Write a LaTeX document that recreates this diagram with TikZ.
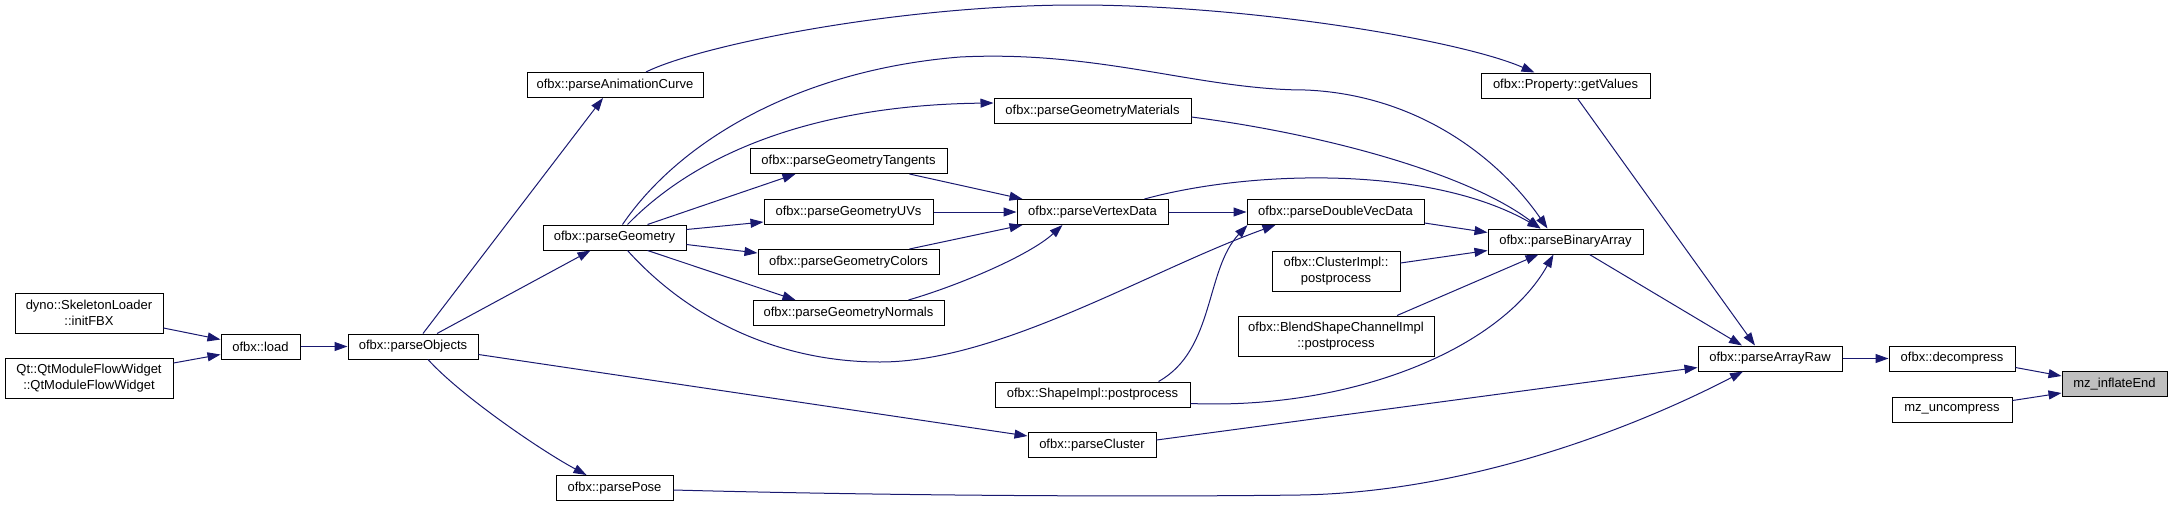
\documentclass[tikz,border=0pt]{standalone}
\usepackage{fontspec}
\setmainfont{Liberation Sans}
\usetikzlibrary{arrows.meta}
\definecolor{edgecol}{HTML}{191970}
\definecolor{boxgray}{HTML}{BFBFBF}
\begin{document}
\begin{tikzpicture}[x=1pt,y=-1pt,
  box/.style={draw=black, line width=1pt, fill=white, inner sep=0pt,
    font=\fontsize{13}{16}\selectfont, align=center, minimum height=25pt},
  tall/.style={minimum height=40pt},
  edge/.style={draw=edgecol, line width=1pt, -{Triangle[length=13pt,width=9pt]}}]
\useasboundingbox (0,0) rectangle (2172,507);
% nodes
\node[box, tall, minimum width=148pt] (skel) at (89,313) {dyno::SkeletonLoader\\::initFBX};
\node[box, tall, minimum width=168pt] (qt) at (89,378) {Qt::QtModuleFlowWidget\\::QtModuleFlowWidget};
\node[box, minimum width=79pt] (load) at (260.5,346.5) {ofbx::load};
\node[box, minimum width=130pt] (pobj) at (413,346.5) {ofbx::parseObjects};
\node[box, minimum width=176pt] (anim) at (615,85) {ofbx::parseAnimationCurve};
\node[box, minimum width=143pt] (geom) at (614.5,237.5) {ofbx::parseGeometry};
\node[box, minimum width=117pt] (pose) at (614.5,488) {ofbx::parsePose};
\node[box, minimum width=197pt] (tan) at (848.5,161) {ofbx::parseGeometryTangents};
\node[box, minimum width=169pt] (uvs) at (848.5,212) {ofbx::parseGeometryUVs};
\node[box, minimum width=181pt] (col) at (848.5,262) {ofbx::parseGeometryColors};
\node[box, minimum width=191pt] (norm) at (848.5,313) {ofbx::parseGeometryNormals};
\node[box, minimum width=197pt] (mat) at (1092.5,111) {ofbx::parseGeometryMaterials};
\node[box, minimum width=151pt] (vd) at (1092.5,212) {ofbx::parseVertexData};
\node[box, minimum width=195pt] (shape) at (1092.5,394.5) {ofbx::ShapeImpl::postprocess};
\node[box, minimum width=128pt] (pclu) at (1092,445) {ofbx::parseCluster};
\node[box, minimum width=177pt] (dv) at (1335.5,212) {ofbx::parseDoubleVecData};
\node[box, tall, minimum width=128pt] (clu) at (1336,271) {ofbx::ClusterImpl::\\postprocess};
\node[box, tall, minimum width=196pt] (blend) at (1336,336) {ofbx::BlendShapeChannelImpl\\::postprocess};
\node[box, minimum width=169pt] (getv) at (1565.5,85.5) {ofbx::Property::getValues};
\node[box, minimum width=155pt] (binA) at (1565.5,241.5) {ofbx::parseBinaryArray};
\node[box, minimum width=144pt] (araw) at (1770,358.5) {ofbx::parseArrayRaw};
\node[box, minimum width=126pt] (decomp) at (1952,358.5) {ofbx::decompress};
\node[box, minimum width=120pt] (uncomp) at (1952,409.5) {mz\_uncompress};
\node[box, minimum width=105pt, fill=boxgray] (infl) at (2114.5,384) {mz\_inflateEnd};
% edges
\draw[edge] ([yshift=-15pt]skel.east) -- ([yshift=7pt]load.west);
\draw[edge] ([yshift=15pt]qt.east) -- ([yshift=-8pt]load.west);
\draw[edge] (load.east) -- (pobj.west);
\draw[edge] ([xshift=10pt]pobj.north) -- ([xshift=-12pt]anim.south);
\draw[edge] ([xshift=24pt]pobj.north) -- ([xshift=-24pt]geom.south);
\draw[edge] ([yshift=-8pt]pobj.east) -- ([yshift=9pt]pclu.west);
\draw[edge] ([xshift=15pt]pobj.south) .. controls (460,395) and (540,450) .. ([xshift=-28pt]pose.north);
\draw[edge] ([xshift=31pt]anim.north) .. controls (700,45) and (900,5) .. (1077,5)
   .. controls (1250,5) and (1460,40) .. ([xshift=-31pt]getv.north);
\draw[edge] ([xshift=8pt]geom.north) .. controls (680,140) and (800,70) .. (960,57)
   .. controls (1100,50) and (1200,90) .. (1306,90)
   .. controls (1420,95) and (1500,160) .. ([xshift=-18pt]binA.north);
\draw[edge] ([xshift=13pt]geom.north) .. controls (700,150) and (820,105) .. ([yshift=8pt]mat.west);
\draw[edge] ([xshift=33pt]geom.north) -- ([xshift=-53pt]tan.south);
\draw[edge] ([yshift=8pt]geom.east) -- ([yshift=-10pt]uvs.west);
\draw[edge] ([yshift=-7pt]geom.east) -- ([yshift=9pt]col.west);
\draw[edge] ([xshift=33pt]geom.south) -- ([xshift=-53pt]norm.north);
\draw[edge] ([xshift=13pt]geom.south) .. controls (690,320) and (780,362) .. (880,362)
   .. controls (1000,362) and (1150,270) .. ([xshift=-60pt]dv.south);
\draw[edge] ([xshift=61pt]tan.south) -- ([xshift=-70pt]vd.north);
\draw[edge] (uvs.east) -- (vd.west);
\draw[edge] ([xshift=61pt]col.north) -- ([xshift=-70pt]vd.south);
\draw[edge] ([xshift=60pt]norm.north) .. controls (960,285) and (1030,255) .. ([xshift=-30pt]vd.south);
\draw[edge] (vd.east) -- (dv.west);
\draw[edge] ([xshift=52pt]vd.north) .. controls (1250,170) and (1430,165) .. ([xshift=-25pt]binA.north);
\draw[edge] ([yshift=-6pt]mat.east) .. controls (1330,135) and (1470,175) .. ([xshift=-25pt]binA.north);
\draw[edge] ([yshift=-11pt]dv.east) -- ([yshift=9pt]binA.west);
\draw[edge] ([yshift=8pt]clu.east) -- ([yshift=-9pt]binA.west);
\draw[edge] ([xshift=61pt]blend.north) -- ([xshift=-27pt]binA.south);
\draw[edge] ([yshift=-9pt]shape.east) .. controls (1350,410) and (1500,350) .. ([xshift=-12pt]binA.south);
\draw[edge] ([xshift=66pt]shape.north) .. controls (1215,350) and (1205,270) .. ([xshift=-88pt]dv.south);
\draw[edge] ([xshift=12pt]getv.south) -- ([xshift=-15pt]araw.north);
\draw[edge] ([xshift=24pt]binA.south) -- ([xshift=-28pt]araw.north);
\draw[edge] ([yshift=5pt]pclu.east) -- ([yshift=-9pt]araw.west);
\draw[edge] ([yshift=-2pt]pose.east) .. controls (900,496) and (1150,497) .. (1300,495)
   .. controls (1480,492) and (1650,420) .. ([xshift=-27pt]araw.south);
\draw[edge] (araw.east) -- (decomp.west);
\draw[edge] ([yshift=-9pt]decomp.east) -- ([yshift=8pt]infl.west);
\draw[edge] ([yshift=9pt]uncomp.east) -- ([yshift=-9pt]infl.west);
\end{tikzpicture}
\end{document}
